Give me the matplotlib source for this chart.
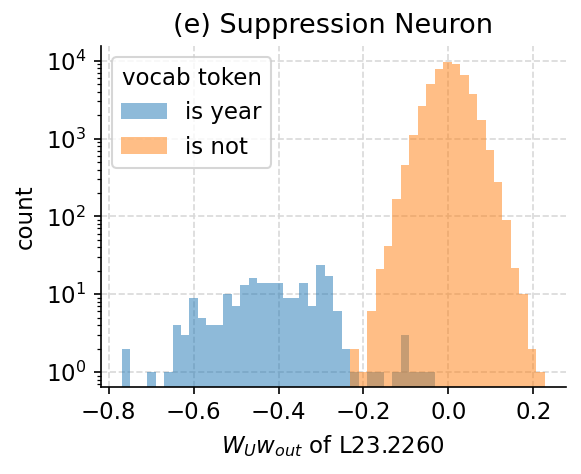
import numpy as np
import matplotlib
matplotlib.use("Agg")
import matplotlib.pyplot as plt

# bins shared by both groups
bin_lo, bin_hi, n_bins = -0.769, 0.227, 50

# counts per bin
year_counts = [2, 0, 0, 1, 0, 1, 4, 3, 9, 5, 4, 4, 10, 7, 13, 16, 14, 14, 14, 9,
               9, 14, 7, 24, 17, 6, 2, 1, 0, 1, 1, 0, 1, 3, 1, 1, 1, 0, 0, 0,
               0, 0, 0, 0, 0, 0, 0, 0, 0, 0]
not_counts = [0, 0, 0, 0, 0, 0, 0, 0, 0, 0, 0, 0, 0, 0, 0, 0, 0, 0, 0, 0,
              0, 0, 0, 0, 0, 0, 0, 2, 1, 6, 21, 42, 169, 451, 1100, 2600, 5050, 7800, 9700, 9150,
              6530, 3750, 1730, 711, 275, 91, 22, 10, 2, 1]

edges = np.linspace(bin_lo, bin_hi, n_bins + 1)
centers = (edges[:-1] + edges[1:]) / 2

fig, ax = plt.subplots(figsize=(581 / 150, 474 / 150), dpi=150)
fig.subplots_adjust(left=0.1733, right=0.974, bottom=0.184, top=0.903)

ax.hist(centers, bins=edges, weights=year_counts, alpha=0.5, color="tab:blue",
        label="is year", log=True, histtype="stepfilled", linewidth=0)
ax.hist(centers, bins=edges, weights=not_counts, alpha=0.5, color="tab:orange",
        label="is not", log=True, histtype="stepfilled", linewidth=0)

ax.set_xlim(bin_lo - 0.05 * (bin_hi - bin_lo), bin_hi + 0.05 * (bin_hi - bin_lo))
ax.set_ylim(10 ** -0.19, 10 ** 4.19)
ax.grid(True, linestyle="--", color="#d9d9d9", linewidth=0.8)
ax.set_axisbelow(True)
ax.spines["top"].set_visible(False)
ax.spines["right"].set_visible(False)

ax.set_title("(e) Suppression Neuron", fontsize=13)
ax.set_xlabel(r"$W_U w_{out}$ of L23.2260", fontsize=11)
ax.set_ylabel("count", fontsize=11)
ax.tick_params(labelsize=11)
ax.legend(title="vocab token", loc="upper left", fontsize=11, title_fontsize=11)

fig.savefig("out.png", dpi=150)
